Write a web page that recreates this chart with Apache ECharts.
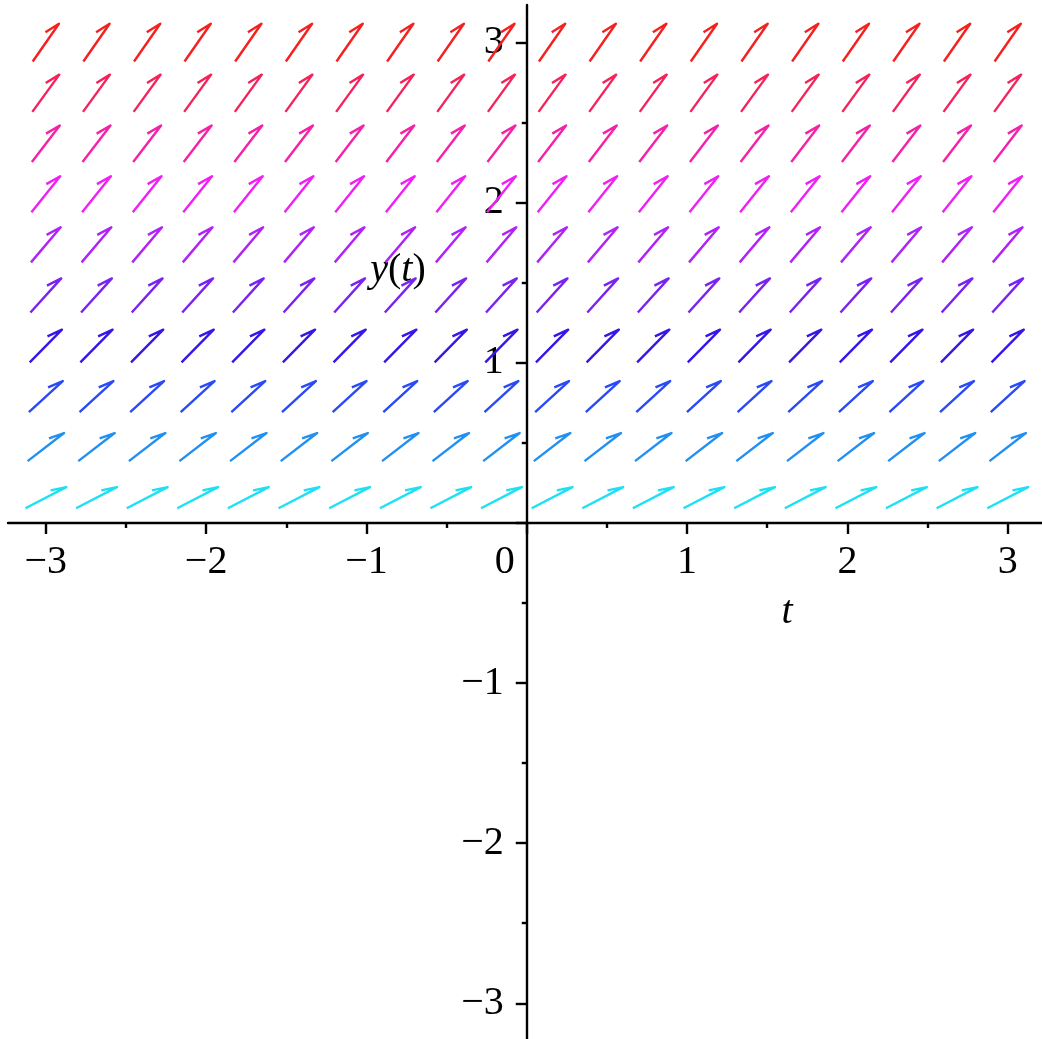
<!DOCTYPE html>
<html>
<head>
<meta charset="utf-8">
<script src="https://cdn.jsdelivr.net/npm/echarts@6/dist/echarts.min.js"></script>
<style>
html, body { margin: 0; padding: 0; background: #fff; }
#main { width: 1042px; height: 1039px; }
</style>
</head>
<body>
<div id="main"></div>
<script>
// arrow grid positions (t columns, y rows)
var tGrid = [-3, -2.684, -2.368, -2.053, -1.737, -1.421, -1.105, -0.789, -0.474, -0.158,
             0.158, 0.474, 0.789, 1.105, 1.421, 1.737, 2.053, 2.368, 2.684, 3];
var yGrid = [0.158, 0.474, 0.789, 1.105, 1.421, 1.737, 2.053, 2.368, 2.684, 3];
// slope dy/dt of the arrows in each row (bottom to top)
var rowSlopes = [0.52, 0.77, 0.92, 1.02, 1.11, 1.18, 1.25, 1.31, 1.38, 1.44];
var rowColors = ['#1ee0f5', '#2290f2', '#2a4af5', '#3518e8', '#7a22f0',
                 '#b022f5', '#f020f5', '#f522a8', '#f5235c', '#f5211f'];
// axis ticks
var majorTicks = [-3, -2, -1, 0, 1, 2, 3];
var minorTicks = [-2.5, -1.5, -0.5, 0.5, 1.5, 2.5];

var font = '"Liberation Serif", "Times New Roman", serif';

var arrows = [];
yGrid.forEach(function (y, r) {
  tGrid.forEach(function (t) {
    arrows.push([t, y, rowSlopes[r], r]);
  });
});

function renderArrow(params, api) {
  var t = api.value(0), y = api.value(1), s = api.value(2), r = api.value(3);
  var c = api.coord([t, y]);
  var d = api.coord([t + 1, y + s]);
  var dx = d[0] - c[0], dy = d[1] - c[1];
  var len = Math.sqrt(dx * dx + dy * dy);
  var ux = dx / len, uy = dy / len;
  var half = 23;
  var x1 = c[0] - ux * half, y1 = c[1] - uy * half;
  var x2 = c[0] + ux * half, y2 = c[1] + uy * half;
  var rev = Math.atan2(-uy, -ux);
  var shaftDeg = Math.atan2(-uy, ux) * 180 / Math.PI;
  var ba = rev + (8 + 0.27 * shaftDeg) * Math.PI / 180;
  var bx = x2 + 16 * Math.cos(ba), by = y2 + 16 * Math.sin(ba);
  return {
    type: 'polyline',
    shape: { points: [[x1, y1], [x2, y2], [bx, by]] },
    style: { stroke: rowColors[r], lineWidth: 2.4, fill: null, lineJoin: 'round' }
  };
}

function fmtX(v) {
  if (v === 0) return '{z|0}';
  return v < 0 ? '\u2212' + Math.abs(v) : '' + v;
}
function fmtY(v) {
  if (v === 0) return '';
  return v < 0 ? '\u2212' + Math.abs(v) : '' + v;
}

var W = 1042, H = 1039;
var gLeft = 8, gTop = 5, gRight = 0, gBottom = 0;
var xRange = { min: -3.236, max: 3.214 };
var yRange = { min: -3.223, max: 3.235 };
// move the axes so that they cross at the origin
var xZeroPx = gLeft + (0 - xRange.min) / (xRange.max - xRange.min) * (W - gLeft - gRight);
var yZeroPx = gTop + (yRange.max - 0) / (yRange.max - yRange.min) * (H - gTop - gBottom);
var xAxisOffset = -((H - gBottom) - yZeroPx);
var yAxisOffset = -(xZeroPx - gLeft);

function majorAxis(range, pos, off, label) {
  return {
    type: 'value', position: pos, offset: off, min: range.min, max: range.max,
    axisLine: { onZero: false, lineStyle: { color: '#000', width: 2.4 } },
    axisTick: { customValues: majorTicks, length: 11, lineStyle: { color: '#000', width: 2.4 } },
    axisLabel: label,
    splitLine: { show: false }
  };
}
function minorAxis(range, pos, off) {
  return {
    type: 'value', position: pos, offset: off, min: range.min, max: range.max,
    axisLine: { show: false, onZero: false },
    axisTick: { customValues: minorTicks, length: 5, lineStyle: { color: '#000', width: 2.4 } },
    axisLabel: { show: false },
    splitLine: { show: false }
  };
}

var myChart = echarts.init(document.getElementById('main'));
var option = {
  backgroundColor: '#fff',
  animation: false,
  grid: {
    left: gLeft, top: gTop, right: gRight, bottom: gBottom,
    containLabel: false, outerBoundsMode: 'none'
  },
  xAxis: [
    majorAxis(xRange, 'bottom', xAxisOffset, {
      customValues: majorTicks, margin: 20, color: '#000', fontSize: 40, fontFamily: font, formatter: fmtX,
      rich: { z: { padding: [0, 44, 0, 0], fontSize: 40, fontFamily: font, color: '#000' } }
    }),
    minorAxis(xRange, 'bottom', xAxisOffset)
  ],
  yAxis: [
    majorAxis(yRange, 'left', yAxisOffset, {
      customValues: majorTicks, margin: 23, color: '#000', fontSize: 40, fontFamily: font, formatter: fmtY
    }),
    minorAxis(yRange, 'left', yAxisOffset)
  ],
  graphic: [
    {
      type: 'text', x: 787, y: 612,
      style: { text: 't', font: 'italic 40px ' + font, fill: '#000', align: 'center', verticalAlign: 'middle' }
    },
    {
      type: 'text', x: 398, y: 270,
      style: {
        text: '{i|y}{r|(}{i|t}{r|)}', fill: '#000', align: 'center', verticalAlign: 'middle',
        rich: {
          i: { fontStyle: 'italic', fontSize: 40, fontFamily: font, fill: '#000' },
          r: { fontSize: 40, fontFamily: font, fill: '#000' }
        }
      }
    }
  ],
  series: [{
    type: 'custom',
    coordinateSystem: 'cartesian2d',
    xAxisIndex: 0,
    yAxisIndex: 0,
    silent: true,
    renderItem: renderArrow,
    encode: { x: 0, y: 1 },
    data: arrows
  }]
};
option && myChart.setOption(option);
</script>
</body>
</html>
